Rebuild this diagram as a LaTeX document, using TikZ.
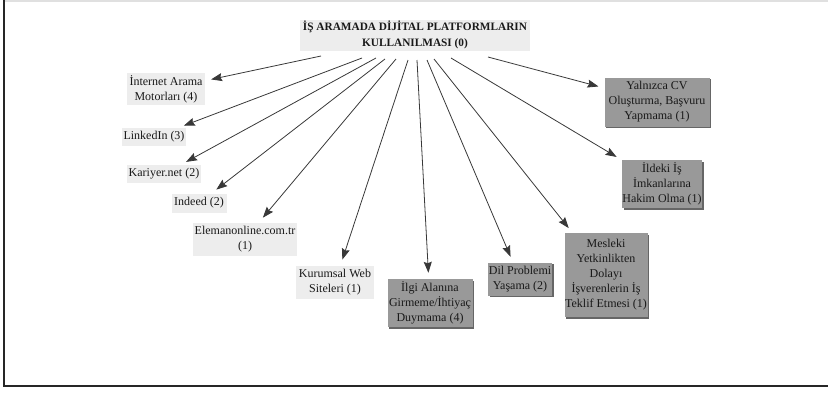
\documentclass[tikz,border=0pt]{standalone}
\usepackage{fontspec}
\setmainfont{Liberation Serif}
\usetikzlibrary{arrows.meta,shadows}

\tikzset{
  lightbox/.style={fill=black!7, inner sep=0pt, align=center,
    font=\fontsize{12}{15}\selectfont, text=black!90},
  darkbox/.style={lightbox, fill=black!40,
    drop shadow={shadow xshift=1.6pt,shadow yshift=-1.6pt,fill=black!60,opacity=1}},
  titlebox/.style={lightbox, font=\bfseries\fontsize{11.3}{16}\selectfont},
  conn/.style={draw=black!78, line width=0.8pt,
    -{Stealth[length=11pt,width=8pt,inset=1.5pt]}, shorten >=6pt},
}

\begin{document}
\begin{tikzpicture}[x=1pt,y=-1pt]
  \useasboundingbox (0,0) rectangle (828,392);

  % frame
  \draw[black!12, line width=1.5pt] (5,0.75) -- (828,0.75);
  \draw[black!85, line width=2pt] (4,0) -- (4,386) -- (828,386);

  % title
  \node[titlebox, minimum width=230pt, minimum height=31pt] (title) at (415,35)
    {İŞ ARAMADA DİJİTAL PLATFORMLARIN\\KULLANILMASI (0)};

  % platforms
  \node[lightbox, minimum width=78pt, minimum height=32pt] (inet) at (166,89) {İnternet Arama\\Motorları (4)};
  \node[lightbox, minimum width=64pt, minimum height=18pt] (linkedin) at (154,137) {LinkedIn (3)};
  \node[lightbox, minimum width=74pt, minimum height=18pt] (kariyer) at (164,174) {Kariyer.net (2)};
  \node[lightbox, minimum width=55pt, minimum height=19pt] (indeed) at (199,203) {Indeed (2)};
  \node[lightbox, minimum width=104pt, minimum height=33pt] (eleman) at (245,239) {Elemanonline.com.tr\\(1)};
  \node[lightbox, minimum width=78pt, minimum height=33pt] (kurumsal) at (335,282) {Kurumsal Web\\Siteleri (1)};

  % problems
  \node[darkbox, minimum width=85pt, minimum height=48pt] (ilgi) at (430,303) {İlgi Alanına\\Girmeme/İhtiyaç\\Duymama (4)};
  \node[darkbox, minimum width=64pt, minimum height=33pt] (dil) at (520,279) {Dil Problemi\\Yaşama (2)};
  \node[darkbox, minimum width=83pt, minimum height=84pt] (mesleki) at (606,275) {Mesleki\\Yetkinlikten\\Dolayı\\İşverenlerin İş\\Teklif Etmesi (1)};
  \node[darkbox, minimum width=80pt, minimum height=48pt] (ildeki) at (662,184) {İldeki İş\\İmkanlarına\\Hakim Olma (1)};
  \node[darkbox, minimum width=105pt, minimum height=49pt] (yalniz) at (657,102) {Yalnızca CV\\Oluşturma, Başvuru\\Yapmama (1)};

  % connectors
  \foreach \n/\x/\y in {inet/321/56, linkedin/362/58, kariyer/376/58,
                        indeed/385/59, eleman/396/59, kurumsal/408/60,
                        ilgi/417/60, dil/427/60, mesleki/434/59,
                        ildeki/451/58, yalniz/488/57}
  {
    \coordinate (s-\n) at (\x,\y);
    \draw[conn] (s-\n) -- (\n);
  }
\end{tikzpicture}
\end{document}
